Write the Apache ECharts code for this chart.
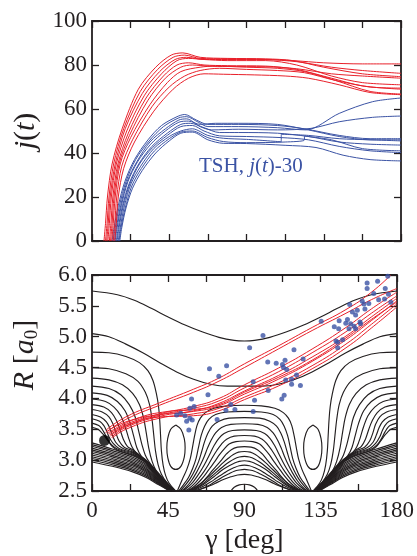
<!DOCTYPE html>
<html><head><meta charset="utf-8">
<script src="https://cdn.jsdelivr.net/npm/echarts/dist/echarts.min.js"></script>
<style>html,body{margin:0;padding:0;background:#fff}#c{width:417px;height:556px}</style>
</head><body><div id="c"></div>
<script>
// ---------- top panel: j(t) ----------
const T_TICKS = [0, 8];
const RED_J = [
 [[0.31,0],[0.35,8],[0.40,20],[0.52,35],[0.78,51],[1.2,69],[1.65,79],[2.05,84.5],[2.35,85.5],[2.8,83.5],[3.5,83],[4.5,82.8],[5.2,82],[6,79],[7,76],[8,74.7]],
 [[0.35,0],[0.39,8],[0.44,20],[0.56,35],[0.82,51],[1.25,68],[1.7,78],[2.1,83.5],[2.4,84.5],[2.8,83],[3.5,82.8],[4.5,82.5],[5.3,81.5],[6.2,79],[7,77.5],[8,76.2]],
 [[0.38,0],[0.42,8],[0.47,20],[0.6,35],[0.86,51],[1.3,67],[1.75,77],[2.15,82.5],[2.45,83.5],[2.9,82.5],[3.5,82.5],[4.5,82.5],[5.2,82],[6,81],[7,80.5],[8,80.5]],
 [[0.41,0],[0.45,8],[0.5,20],[0.63,35],[0.9,50],[1.35,66],[1.8,76],[2.2,82],[2.5,83],[2.9,82.5],[3.5,82],[4.5,82],[5.3,80],[6.2,75],[7,72],[8,71]],
 [[0.45,0],[0.49,8],[0.54,20],[0.67,35],[0.94,49],[1.4,65],[1.85,75],[2.2,80],[2.5,81],[2.9,80],[3.5,79.7],[4.5,79.5],[5.3,78],[6.2,74],[7,70.5],[8,69]],
 [[0.48,0],[0.52,8],[0.57,20],[0.7,35],[0.97,48],[1.45,64],[1.9,74],[2.3,79],[2.6,80],[3,79.5],[3.5,79.3],[4.5,79.2],[5.3,78.3],[6.2,76],[7,75],[8,74]],
 [[0.51,0],[0.55,8],[0.6,20],[0.73,35],[1.0,47],[1.5,62],[1.95,72],[2.3,77],[2.8,79],[3.2,79.5],[4,79],[4.8,78.5],[5.5,77],[6.3,73],[7.2,68],[8,66.8]],
 [[0.55,0],[0.59,8],[0.64,20],[0.77,34],[1.05,46],[1.55,61],[2.0,70],[2.4,75],[2.8,77.5],[3.3,78.5],[4,78],[4.8,77.5],[5.5,76.5],[6.3,73],[7.2,70],[8,69.5]],
 [[0.59,0],[0.63,8],[0.68,20],[0.82,33],[1.1,45],[1.6,59],[2.1,69],[2.5,74],[2.9,76],[3.4,75.8],[4.2,75.5],[5,75],[5.6,74],[6.4,71],[7.2,67.5],[8,66.5]]
];
const BLUE_J = [
 [[0.52,0],[0.57,6],[0.68,16],[0.85,27],[1.1,37],[1.45,46],[1.8,52.5],[2.2,56.5],[2.4,57.5],[2.7,55],[3.0,53],[3.8,53],[4.8,52.5],[5.5,51],[6.4,48],[7.2,46.5],[8,46.5]],
 [[0.55,0],[0.6,6],[0.71,16],[0.88,27],[1.13,37],[1.48,45.5],[1.85,52],[2.25,56],[2.45,56.5],[2.75,54],[3.0,52],[3.8,52],[4.8,51.5],[5.54,50.5],[6.4,58],[7.26,63.3],[8,65]],
 [[0.58,0],[0.63,6],[0.74,16],[0.91,27],[1.16,36],[1.5,45],[1.9,51],[2.25,55],[2.45,55.5],[2.8,52],[3.1,50.5],[3.8,50.8],[4.8,50.5],[5.67,51.2],[6.4,54.2],[7.26,56.2],[8,56.8]],
 [[0.6,0],[0.65,6],[0.76,16],[0.93,27],[1.18,36],[1.52,44],[1.9,50],[2.25,54],[2.5,54.5],[2.8,53],[3.2,53.5],[3.8,53.5],[4.8,53],[5.6,50.5],[6.4,47.5],[7.2,46],[8,46]],
 [[0.63,0],[0.68,6],[0.79,16],[0.96,26],[1.21,35],[1.55,43],[1.95,49],[2.3,53],[2.55,53.5],[2.9,51.5],[3.3,49.3],[3.8,49.3],[4.8,49],[5.6,47.5],[6.4,45],[7.2,44],[8,43.6]],
 [[0.65,0],[0.7,6],[0.81,16],[0.98,26],[1.23,35],[1.57,42.5],[1.95,48],[2.3,52],[2.6,52.5],[2.9,50],[3.3,47.8],[4.0,47.5],[4.9,47],[5.6,46],[6.4,43],[7.2,41],[8,40.2]],
 [[0.68,0],[0.73,6],[0.84,16],[1.01,26],[1.26,34],[1.6,42],[2.0,47.5],[2.3,50],[2.6,51],[3.0,48],[3.4,46.7],[4.0,46.2],[4.9,45.1],[4.9,48.5],[5.6,48],[6.4,46.5],[7.2,46],[8,45.5]],
 [[0.7,0],[0.75,6],[0.86,15],[1.03,25],[1.28,33],[1.62,41],[2.0,46.5],[2.3,49.5],[2.6,50],[3.0,47],[3.4,45.2],[4.0,44.7],[5.0,45],[5.5,45.9],[5.5,47.7],[6.2,46],[7.0,42],[8,41]],
 [[0.72,0],[0.77,6],[0.88,15],[1.05,24],[1.3,32],[1.65,40],[2.0,45.5],[2.3,49],[2.6,49.5],[3.0,46],[3.4,44.4],[4.0,44.3],[5.0,43.5],[5.8,42.5],[6.5,39],[7.2,37],[8,36.4]]
];

// ---------- bottom panel: contours (half-plane γ<=90, plot is symmetric about 90) ----------
const CONTOUR_CROSS = [
 [[0,5.74],[15,5.68],[25,5.59],[35,5.46],[45,5.32],[55,5.19],[65,5.08],[75,4.99],[84,4.94],[90,4.93]],
 [[0,5.05],[10,5.0],[20,4.88],[30,4.74],[40,4.58],[50,4.43],[60,4.31],[70,4.23],[80,4.2],[90,4.2]],
 [[90,3.89],[80,3.88],[72,3.84],[67,3.77],[64,3.68],[62,3.56],[60.5,3.38],[59.3,3.2],[58,3.02],[56,2.85],[53.5,2.7],[50.4,2.5]],
 [[90,3.79],[80,3.78],[73,3.74],[69,3.66],[66.5,3.55],[64.5,3.4],[63,3.22],[61.5,3.03],[59.5,2.87],[57,2.72],[54,2.6],[51.2,2.5]],
 [[90,3.69],[81,3.68],[75,3.63],[71,3.55],[68.5,3.44],[66.5,3.3],[64.8,3.14],[63,2.98],[60.8,2.84],[58,2.7],[55,2.59],[52,2.5]],
 [[90,3.59],[82,3.58],[76.5,3.53],[73,3.44],[70.5,3.33],[68.3,3.2],[66.3,3.06],[64,2.92],[61.5,2.79],[58.8,2.67],[55.8,2.57],[52.8,2.5]],
 [[90,3.49],[83,3.48],[78,3.43],[74.8,3.35],[72.2,3.24],[70,3.12],[67.6,2.99],[65,2.86],[62.2,2.74],[59.5,2.64],[56.5,2.56],[53.6,2.5]],
 [[90,3.40],[84,3.39],[79.5,3.34],[76.5,3.26],[73.8,3.16],[71.3,3.05],[68.8,2.93],[66,2.81],[63,2.7],[60.2,2.61],[57.3,2.54],[54.4,2.5]],
 [[90,3.31],[85,3.3],[81,3.26],[78,3.18],[75.3,3.09],[72.6,2.98],[69.9,2.88],[67,2.77],[64,2.67],[61,2.59],[58,2.53],[55.2,2.5]],
 [[90,3.22],[86,3.21],[82.3,3.17],[79.4,3.1],[76.7,3.01],[73.9,2.92],[71,2.83],[68,2.73],[65,2.64],[62,2.57],[58.8,2.52],[56,2.5]],
 [[90,3.14],[86.5,3.13],[83.5,3.09],[80.5,3.03],[77.5,2.96],[74.5,2.88],[71.5,2.8],[68.5,2.72],[65.5,2.65],[62.5,2.59],[59.5,2.54],[56.8,2.5]],
 [[90,3.06],[87,3.05],[84,3.02],[81,2.97],[78,2.91],[75,2.84],[72,2.77],[69,2.7],[66,2.63],[63,2.57],[60,2.53],[57.6,2.5]],
 [[90,2.99],[87,2.98],[84,2.95],[81,2.91],[78,2.86],[75,2.8],[72,2.73],[69,2.67],[66,2.61],[63,2.56],[60.5,2.52],[58.4,2.5]],
 [[90,2.92],[87,2.91],[84,2.88],[81,2.84],[78,2.79],[75,2.74],[72,2.68],[69,2.63],[66,2.58],[63,2.54],[59.2,2.5]],
 [[90,2.85],[87,2.84],[84,2.82],[81,2.78],[78,2.74],[75,2.69],[72,2.64],[69,2.59],[66,2.55],[63,2.52],[60,2.5]],
 [[90,2.77],[86,2.76],[82,2.73],[78,2.69],[74,2.64],[70,2.59],[66,2.55],[62,2.51],[60.8,2.5]],
 [[82,2.5],[84,2.56],[87,2.6],[90,2.61]]
];
const CONTOUR_SIDE = [
 [[0,4.75],[10,4.74],[20,4.68],[28,4.58],[33,4.45],[36,4.29],[38,4.08],[39.3,3.87],[40,3.65],[40.5,3.4],[41,3.15],[42,2.92],[43.5,2.75],[45.5,2.63],[49.4,2.5]],
 [[0,4.5],[10,4.48],[20,4.40],[27,4.28],[31.5,4.1],[34,3.9],[35.5,3.65],[36.5,3.4],[37.5,3.15],[39,2.93],[41,2.77],[44,2.645],[49.2,2.5]],
 [[0,4.33],[10,4.3],[18,4.22],[24,4.08],[28,3.9],[30.5,3.68],[32,3.45],[33.5,3.2],[35.5,2.98],[38,2.82],[41,2.71],[44,2.64],[49,2.5]],
 [[0,4.2],[10,4.16],[17,4.06],[22,3.9],[25.5,3.7],[27.5,3.48],[29.5,3.25],[31.5,3.08],[34,2.96],[37,2.86],[40,2.765],[44,2.635],[48.8,2.5]],
 [[0,4.09],[9,4.05],[15,3.95],[19.5,3.8],[22.5,3.6],[24.5,3.4],[26.5,3.2],[29,3.07],[32,3.0],[35.5,2.9],[39.4,2.77],[44,2.63],[48.6,2.5]],
 [[0,3.99],[8,3.95],[13,3.86],[17,3.72],[19.5,3.55],[21.5,3.37],[23.5,3.22],[26,3.12],[29,3.06],[32,2.99],[35.5,2.89],[39.4,2.765],[44,2.625],[48.4,2.5]],
 [[0,3.9],[7,3.86],[11.5,3.77],[14.5,3.64],[16.5,3.5],[18.5,3.34],[21,3.22],[24,3.17],[28,3.08],[32,2.985],[35.5,2.885],[39.4,2.76],[44,2.62],[48.2,2.5]],
 [[0,3.82],[6,3.78],[10,3.7],[12.5,3.58],[14,3.45],[16,3.31],[19,3.21],[24,3.15],[28,3.07],[32,2.98],[35.5,2.88],[39.4,2.755],[44,2.615],[48,2.5]],
 [[0,3.74],[5,3.7],[8.5,3.62],[10.5,3.52],[12,3.41],[14,3.29],[17.5,3.2],[24,3.13],[28,3.06],[32,2.975],[35.5,2.875],[39.4,2.75],[44,2.61],[47.8,2.5]],
 [[0,3.67],[4.5,3.63],[7,3.56],[8.5,3.48],[10,3.38],[12.5,3.27],[16,3.19],[24,3.115],[28,3.05],[32,2.97],[35.5,2.87],[39.4,2.745],[44,2.605],[47.6,2.5]],
 [[0,3.6],[4,3.56],[6,3.5],[7.5,3.43],[9,3.35],[11.5,3.25],[15,3.18],[24,3.1],[28,3.04],[32,2.965],[35.5,2.865],[39.4,2.74],[44,2.6],[47.4,2.5]],
 [[0,3.53],[3.5,3.5],[5.5,3.45],[7.5,3.39],[9.5,3.31],[12,3.22],[16,3.15],[24,3.085],[28,3.03],[32,2.96],[35.5,2.86],[39.4,2.735],[44,2.595],[47.2,2.5]],
 [[0,3.28],[12,3.18],[24,3.07],[32,2.95],[39.4,2.73],[44,2.59],[47.0,2.5]],
 [[0,3.252],[12,3.155],[24,3.046],[32,2.929],[39.4,2.718],[44,2.585],[46.95,2.5]],
 [[0,3.224],[12,3.129],[24,3.023],[32,2.908],[39.4,2.706],[44,2.579],[46.9,2.5]],
 [[0,3.195],[12,3.104],[24,2.999],[32,2.887],[39.4,2.695],[44,2.574],[46.86,2.5]],
 [[0,3.167],[12,3.078],[24,2.975],[32,2.866],[39.4,2.683],[44,2.568],[46.82,2.5]],
 [[0,3.139],[12,3.053],[24,2.952],[32,2.845],[39.4,2.671],[44,2.563],[46.77,2.5]],
 [[0,3.111],[12,3.027],[24,2.928],[32,2.825],[39.4,2.659],[44,2.557],[46.73,2.5]],
 [[0,3.083],[12,3.002],[24,2.905],[32,2.804],[39.4,2.647],[44,2.552],[46.68,2.5]],
 [[0,3.055],[12,2.976],[24,2.881],[32,2.783],[39.4,2.635],[44,2.546],[46.64,2.5]],
 [[0,3.026],[12,2.951],[24,2.857],[32,2.762],[39.4,2.624],[44,2.541],[46.59,2.5]],
 [[0,2.998],[12,2.925],[24,2.834],[32,2.741],[39.4,2.612],[44,2.535],[46.55,2.5]],
 [[0,2.97],[12,2.9],[24,2.81],[32,2.72],[39.4,2.6],[44,2.53],[46.5,2.5]],
 [[49.5,3.57],[52.5,3.5],[54.5,3.35],[55,3.2],[54.5,3.05],[52.5,2.9],[49.5,2.85],[46.5,2.9],[44.7,3.05],[44.2,3.2],[44.7,3.35],[46.5,3.5],[49.5,3.57]]
];
// ---------- bottom panel: trajectories, hopping points, start ----------
const TRAJ = [
 [[8.4,3.49],[20,3.70],[40,3.93],[60,4.15],[75,4.33],[90,4.56],[110,4.85],[130,5.15],[150,5.44],[165,5.72],[176.5,6.0]],
 [[9.5,3.47],[20,3.66],[40,3.89],[60,4.10],[75,4.28],[90,4.50],[110,4.80],[130,5.10],[150,5.38],[165,5.60],[180,5.78]],
 [[10,3.42],[20,3.58],[40,3.75],[60,3.87],[75,4.00],[90,4.22],[110,4.49],[130,4.80],[150,5.15],[165,5.45],[180,5.72]],
 [[11,3.39],[20,3.55],[40,3.73],[60,3.84],[75,3.96],[90,4.17],[110,4.43],[130,4.74],[150,5.08],[165,5.38],[180,5.66]],
 [[11.5,3.37],[20,3.53],[40,3.71],[60,3.80],[75,3.92],[90,4.12],[110,4.37],[130,4.67],[150,5.01],[165,5.32],[180,5.62]],
 [[8,3.45],[20,3.62],[40,3.74],[60,3.79],[75,3.88],[90,4.07],[110,4.31],[130,4.6],[150,4.95],[165,5.26],[180,5.58]],
 [[12,3.36],[20,3.5],[40,3.68],[60,3.75],[75,3.84],[90,4.02],[110,4.25],[130,4.53],[150,4.88],[165,5.2],[180,5.53]],
 [[10.5,3.4],[20,3.56],[40,3.7],[60,3.72],[75,3.8],[90,3.98],[110,4.2],[130,4.48],[150,4.82],[165,5.14],[180,5.48]],
 [[9,3.43],[25,3.66],[45,3.79],[60,3.82],[75,3.9],[90,4.1],[110,4.34],[130,4.62],[150,4.98],[165,5.28],[180,5.56]]
];
const HOPS = [
 [50.0,3.73],[52.4,3.76],[54.9,3.72],[55.9,3.63],[57.2,3.49],[57.8,3.68],[57.8,3.84],[58.8,3.99],[59.2,3.65],[60.3,3.87],[68.5,4.06],[73.9,3.66],[79.1,3.81],[82.0,3.90],[84.4,3.82],[69.4,4.48],[74.9,4.36],[79.5,4.53],
 [95.2,3.79],[93.1,4.82],[95.2,4.27],[96.0,3.97],[101.0,5.02],[104.1,4.13],[103.8,4.59],[108.8,4.57],[112.1,3.99],[112.5,4.55],[113.1,4.50],[114.0,4.62],[115.0,4.47],[113.5,4.05],[114.4,4.30],[117.9,4.31],[117.9,4.23],[119.3,4.79],[120.8,4.38],[123.1,4.21],[124.7,4.64],
 [135.4,5.25],[143.1,5.16],[145.7,5.13],[146.0,5.26],[150.9,5.28],[151.8,5.13],[149.9,5.22],[152.8,5.21],[154.8,5.17],[155.7,5.13],[158.6,5.21],[158.3,5.24],[155.7,5.35],[153.8,5.40],[156.7,5.43],[152.2,5.52],[160.6,5.53],[159.6,5.58],[163.5,5.54],[161.2,5.45],[144.1,4.93],[145.1,4.91],[148.0,4.95],[145.1,4.82],[162.5,5.87],[162.5,5.78],[166.4,5.70],[168.7,5.90],[173.2,5.78],[175.1,5.69],[172.8,5.61],[169.3,5.60],[176.5,5.56],[174.7,5.98]
];
const START = [[7.4,3.32]];

const RED = '#e8202a', BLUE = '#3b53a4', INK = '#231f20';
const FONT = '"Liberation Serif","Times New Roman",serif';

const mirror = pts => pts.map(p => [180 - p[0], p[1]]);
const series = [];
const lineBase = (data, xi, yi, color, w, z, sm) => ({
  type: 'line', data, xAxisIndex: xi, yAxisIndex: yi, showSymbol: false, symbol: 'none',
  smooth: sm, silent: true, z,
  lineStyle: { color, width: w }
});
BLUE_J.forEach(d => series.push(lineBase(d, 0, 0, BLUE, 1, 3, 0.3)));
RED_J.forEach(d => series.push(lineBase(d, 0, 0, RED, 1, 4, 0.3)));
CONTOUR_CROSS.forEach(c => {
  const h = c[0][0] === 90 ? c.slice().reverse() : c;
  const full = h.concat(mirror(h.slice(0, -1)).reverse());
  series.push(lineBase(full, 2, 2, INK, 1.15, 2, 0.35));
});
CONTOUR_SIDE.forEach(c => {
  series.push(lineBase(c, 2, 2, INK, 1.15, 2, 0.35));
  series.push(lineBase(mirror(c), 2, 2, INK, 1.15, 2, 0.35));
});
TRAJ.forEach(d => series.push(lineBase(d, 2, 2, RED, 1, 4, 0.5)));
series.push({ type: 'scatter', data: HOPS, xAxisIndex: 2, yAxisIndex: 2, symbolSize: 5, z: 5,
  itemStyle: { color: BLUE }, silent: true });
series.push({ type: 'scatter', data: START, xAxisIndex: 2, yAxisIndex: 2, symbolSize: 11, z: 6,
  itemStyle: { color: '#000' }, silent: true });

const tick = { show: true, inside: true, length: 7, lineStyle: { color: INK, width: 1.3 } };
const line = { show: true, onZero: false, lineStyle: { color: INK, width: 1.8 } };
const lab = { color: INK, fontFamily: FONT, fontSize: 23 };

const chart = echarts.init(document.getElementById('c'), null, { renderer: 'canvas' });
chart.setOption({
  animation: false,
  backgroundColor: '#fff',
  grid: [
    { left: 92, top: 21, width: 309, height: 220 },
    { left: 92, top: 275, width: 309, height: 219 }
  ],
  xAxis: [
    { gridIndex: 0, type: 'value', min: T_TICKS[0], max: T_TICKS[1], interval: 1, axisLine: line, axisTick: tick, axisLabel: { show: false }, splitLine: { show: false } },
    { gridIndex: 0, type: 'value', position: 'top', min: T_TICKS[0], max: T_TICKS[1], interval: 1, axisLine: line, axisTick: tick, axisLabel: { show: false }, splitLine: { show: false } },
    { gridIndex: 1, type: 'value', min: 0, max: 180, interval: 22.5, axisLine: line, axisTick: tick,
      axisLabel: Object.assign({ margin: 8, formatter: v => (v % 45 === 0 ? String(v) : '') }, lab), splitLine: { show: false },
      name: 'γ [deg]', nameLocation: 'middle', nameGap: 36, nameTextStyle: { color: INK, fontFamily: FONT, fontSize: 28 } },
    { gridIndex: 1, type: 'value', position: 'top', min: 0, max: 180, interval: 22.5, axisLine: line, axisTick: tick, axisLabel: { show: false }, splitLine: { show: false } }
  ],
  yAxis: [
    { gridIndex: 0, type: 'value', min: 0, max: 100, interval: 20, axisLine: line, axisTick: tick,
      axisLabel: Object.assign({ margin: 5 }, lab), splitLine: { show: false },
      name: '{i|j}{n|(}{i|t}{n|)}', nameLocation: 'middle', nameGap: 45, nameRotate: 90,
      nameTextStyle: { rich: { i: { fontFamily: FONT, fontSize: 30, fontStyle: 'italic', color: INK }, n: { fontFamily: FONT, fontSize: 30, color: INK } } } },
    { gridIndex: 0, type: 'value', position: 'right', min: 0, max: 100, interval: 20, axisLine: line, axisTick: tick, axisLabel: { show: false }, splitLine: { show: false } },
    { gridIndex: 1, type: 'value', min: 2.5, max: 6, interval: 0.5, axisLine: line, axisTick: tick,
      axisLabel: Object.assign({ margin: 5, formatter: v => v.toFixed(1) }, lab), splitLine: { show: false },
      name: '{i|R}{n| [}{i|a}{s|0}{n|]}', nameLocation: 'middle', nameGap: 50, nameRotate: 90,
      nameTextStyle: { fontSize: 30, fontFamily: FONT, padding: [0, 0, 0, 56], rich: {
        i: { fontFamily: FONT, fontSize: 30, lineHeight: 34, fontStyle: 'italic', color: INK },
        n: { fontFamily: FONT, fontSize: 30, lineHeight: 34, color: INK },
        s: { fontFamily: FONT, fontSize: 19, lineHeight: 16, color: INK, verticalAlign: 'bottom' } } } },
    { gridIndex: 1, type: 'value', position: 'right', min: 2.5, max: 6, interval: 0.5, axisLine: line, axisTick: tick, axisLabel: { show: false }, splitLine: { show: false } }
  ],
  graphic: [{
    type: 'text', left: 199, top: 156, z: 10,
    style: { text: '{n|TSH, }{i|j}{n|(}{i|t}{n|)-30}', rich: {
      n: { fontFamily: FONT, fontSize: 21, fill: BLUE },
      i: { fontFamily: FONT, fontSize: 21, fontStyle: 'italic', fill: BLUE } } }
  }],
  series
});
</script>
</body></html>
